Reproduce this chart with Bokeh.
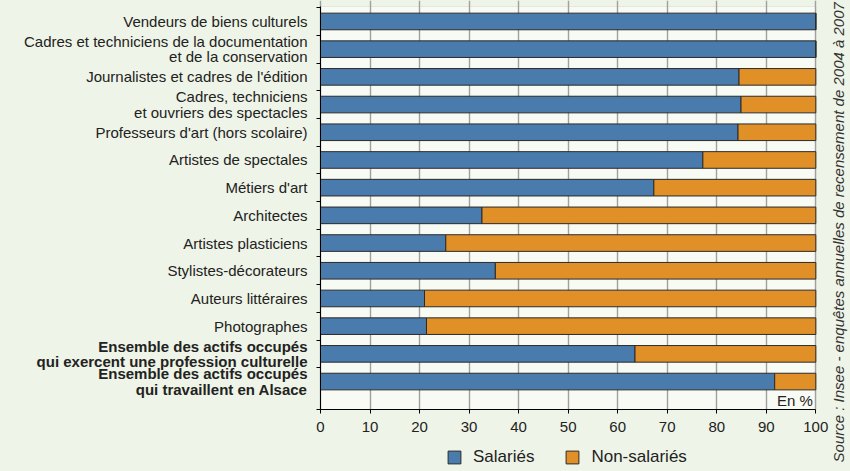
import math
from bokeh.plotting import figure
from bokeh.models import (Range1d, FixedTicker, ColumnDataSource, Label,
                          Legend, LegendItem, LinearAxis, BoxAnnotation)
from bokeh.embed import file_html
from bokeh.resources import INLINE

# ---------------- data ----------------
categories = [
    "Vendeurs de biens culturels",
    "Cadres et techniciens de la documentation\net de la conservation",
    "Journalistes et cadres de l'édition",
    "Cadres, techniciens\net ouvriers des spectacles",
    "Professeurs d'art (hors scolaire)",
    "Artistes de spectales",
    "Métiers d'art",
    "Architectes",
    "Artistes plasticiens",
    "Stylistes-décorateurs",
    "Auteurs littéraires",
    "Photographes",
    "Ensemble des actifs occupés\nqui exercent une profession culturelle",
    "Ensemble des actifs occupés\nqui travaillent en Alsace",
]
bold_categories = [False] * 12 + [True, True]
salaries = [100, 100, 84.5, 84.9, 84.3, 77.2, 67.3, 32.6, 25.3, 35.3, 21.0, 21.4, 63.5, 91.7]
non_salaries = [0, 0, 15.5, 15.1, 15.7, 22.8, 32.7, 67.4, 74.7, 64.7, 79.0, 78.6, 36.5, 8.3]
series_names = ["Salariés", "Non-salariés"]
x_ticks = [0, 10, 20, 30, 40, 50, 60, 70, 80, 90, 100]
unit_label = "En %"
source_text = "Source : Insee - enquêtes annuelles de recensement de 2004 à 2007"

# ---------------- style ----------------
BLUE = "#4a7bad"
ORANGE = "#e19028"
OUTLINE = "#2a2a2a"
OUTER_BG = "#eef4e7"
INNER_BG = "#f8faf4"
TEXT = "#222222"
FONT = "Liberation Sans"

n = len(categories)
ypos = list(range(n))
totals = [s + o for s, o in zip(salaries, non_salaries)]
src = ColumnDataSource(dict(y=ypos, sal=salaries, tot=totals))

# plot area (in category / percent units) and the frame that covers the page
y_top = -0.54
y_bottom = n + 0.01
ROW_PX = 27.7
PCT_PX = 4.953
y_frame_top = y_top - 6 / ROW_PX
y_frame_bottom = y_frame_top + 471 / ROW_PX
x_frame_left = -320 / PCT_PX
x_frame_right = 530 / PCT_PX

p = figure(frame_width=850, frame_height=471, output_backend="svg",
           toolbar_location=None,
           x_range=Range1d(x_frame_left, x_frame_right),
           y_range=Range1d(y_frame_bottom, y_frame_top),
           min_border_left=0, min_border_right=0, min_border_top=0,
           min_border_bottom=0)
p.background_fill_color = OUTER_BG
p.border_fill_color = OUTER_BG
p.outline_line_color = None

# plot area background
p.add_layout(BoxAnnotation(left=0, right=100, top=y_top, bottom=y_bottom,
                           fill_color=INNER_BG, fill_alpha=1,
                           line_color="#c4c4c4", line_width=1, level="image"))

p.xgrid.ticker = FixedTicker(ticks=x_ticks)
p.xgrid.grid_line_color = "#a0a0a0"
p.xgrid.grid_line_width = 1.4
p.ygrid.grid_line_color = None

# hide the grid below the plot area
p.add_layout(BoxAnnotation(top=y_bottom, fill_color=OUTER_BG, fill_alpha=1,
                           line_color=None, level="underlay"))

r_sal = p.hbar(y="y", left=0, right="sal", height=0.6, source=src,
               fill_color=BLUE, line_color=OUTLINE, line_width=1)
r_non = p.hbar(y="y", left="sal", right="tot", height=0.6, source=src,
               fill_color=ORANGE, line_color=OUTLINE, line_width=1)

# ---- x axis, drawn at the bottom of the plot area
xa = p.xaxis[0]
xa.fixed_location = y_bottom
xa.bounds = (0, 100)
xa.ticker = FixedTicker(ticks=x_ticks)
xa.axis_line_color = "black"
xa.major_tick_line_color = "black"
xa.major_tick_out = 4
xa.major_tick_in = 0
xa.minor_tick_line_color = None
xa.major_label_text_font = FONT
xa.major_label_text_font_size = "15px"
xa.major_label_text_color = TEXT
xa.major_label_standoff = 8

# ---- y axis at x = 0: bold labels + separator ticks
bold_idx = [i for i, b in enumerate(bold_categories) if b]
norm_idx = [i for i, b in enumerate(bold_categories) if not b]
ya = p.yaxis[0]
ya.fixed_location = 0
ya.bounds = (y_top, y_bottom)
ya.ticker = FixedTicker(ticks=bold_idx,
                        minor_ticks=[i - 0.5 for i in range(n)] + [y_bottom])
ya.major_label_overrides = {i: categories[i] for i in bold_idx}
ya.axis_line_color = "black"
ya.major_tick_line_color = None
ya.major_tick_out = 0
ya.major_tick_in = 0
ya.minor_tick_line_color = "black"
ya.minor_tick_out = 4
ya.minor_tick_in = 0
ya.major_label_standoff = 9
ya.major_label_text_font = FONT
ya.major_label_text_font_size = "15px"
ya.major_label_text_font_style = "bold"
ya.major_label_text_color = TEXT
ya.major_label_text_line_height = 0.9

# ---- second axis at x = 0 carrying the normal-weight labels
yn = LinearAxis(ticker=FixedTicker(ticks=norm_idx),
                major_label_overrides={i: categories[i] for i in norm_idx},
                fixed_location=0,
                axis_line_color=None, major_tick_line_color=None,
                minor_tick_line_color=None, major_tick_out=0, major_tick_in=0,
                minor_tick_out=0, minor_tick_in=0,
                major_label_standoff=13,
                major_label_text_font=FONT, major_label_text_font_size="15px",
                major_label_text_color=TEXT,
                major_label_text_line_height=0.9)
p.add_layout(yn, "left")

# ---- texts
p.add_layout(Label(x=99.4, y=13.68, text=unit_label, text_align="right",
                   text_baseline="middle", text_font=FONT,
                   text_font_size="15px", text_color=TEXT))

p.add_layout(Label(x=104.6, y=15.92, text=source_text, angle=math.pi / 2,
                   text_align="left", text_baseline="middle", text_font=FONT,
                   text_font_size="15px", text_font_style="italic",
                   text_color="#333333"))

legend = Legend(items=[LegendItem(label=series_names[0], renderers=[r_sal]),
                       LegendItem(label=series_names[1], renderers=[r_non])],
                orientation="horizontal", location=(446, 4),
                padding=0, margin=0, spacing=30, label_standoff=11,
                glyph_width=16, glyph_height=16, label_height=16,
                label_text_font=FONT, label_text_font_size="17px",
                label_text_color=TEXT, border_line_color=None,
                background_fill_alpha=0)
p.add_layout(legend)

html = file_html(p, INLINE)
html = html.replace("</head>",
                    "<style>body{margin:0;background:%s;}</style></head>" % OUTER_BG, 1)
open("out.html", "w").write(html)
